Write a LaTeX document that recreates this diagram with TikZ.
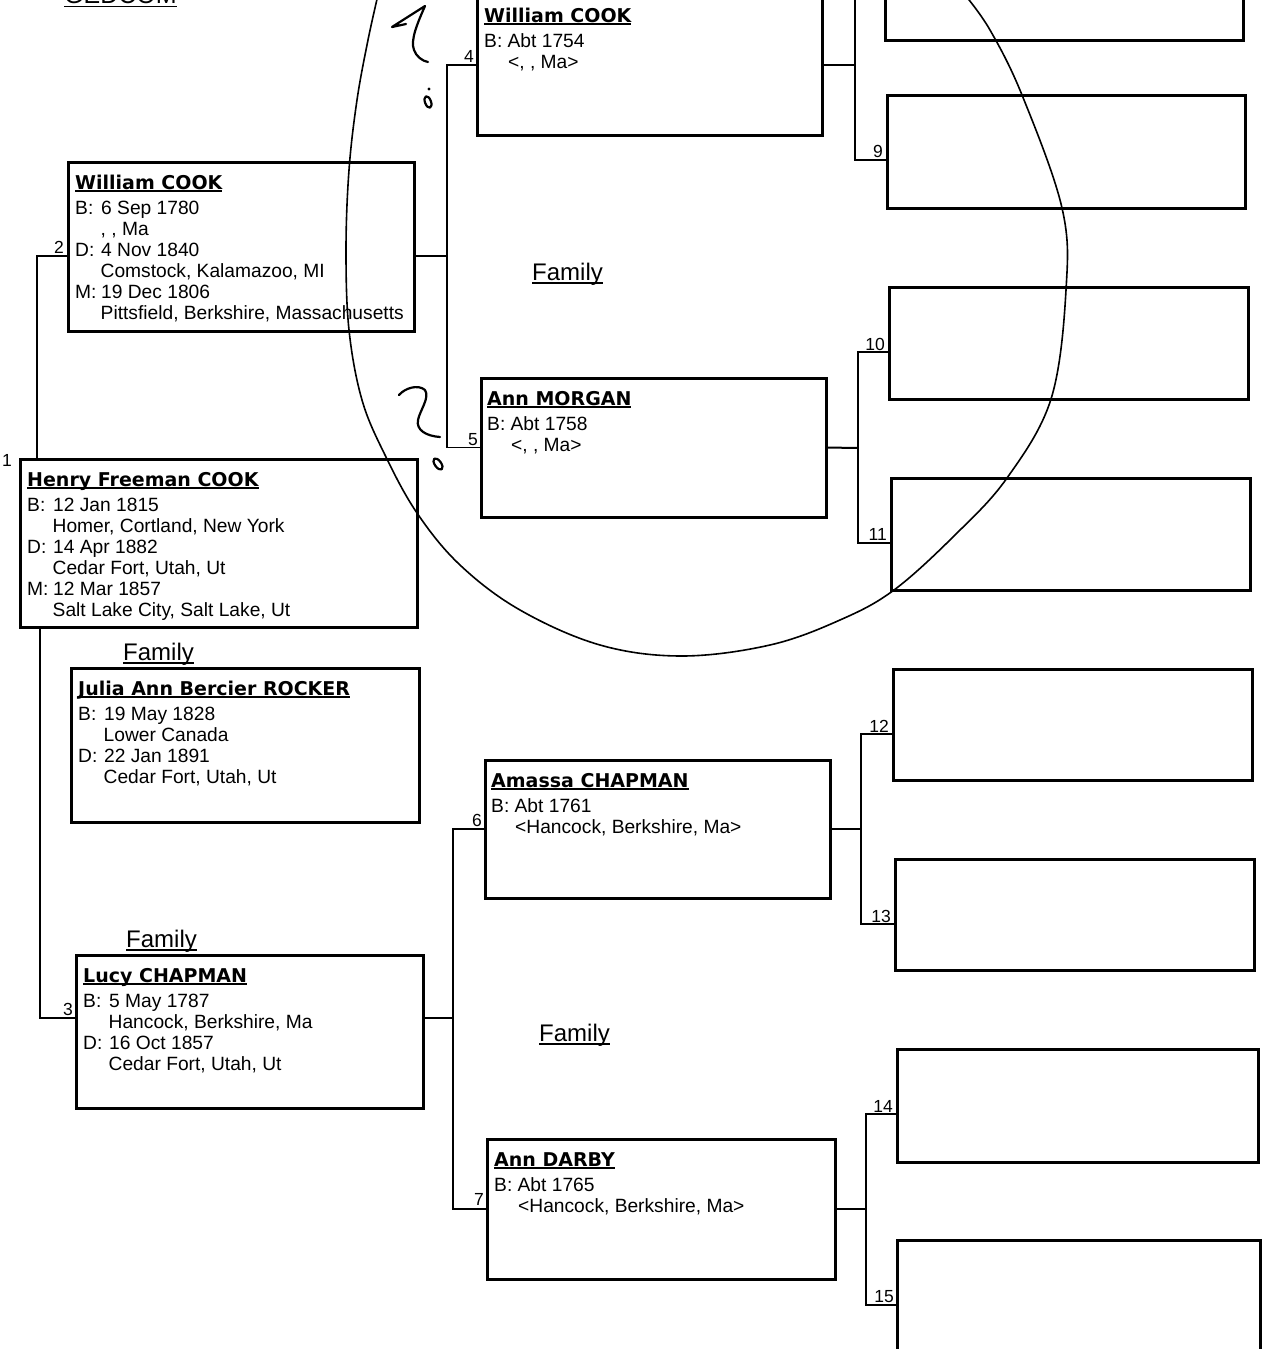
\documentclass[tikz,border=0pt]{standalone}
\usepackage{fontspec}
\setmainfont{Liberation Sans}
\newfontfamily\dejavu{DejaVu Sans}
\usetikzlibrary{calc}
\newcommand\ulx[2][2.5pt]{\setbox0=\hbox{#2}\rlap{\rule[-#1]{\wd0}{1.1pt}}\box0}
\newcommand\lab[1]{\makebox[26pt][l]{#1}}
\newcommand\ind{\hspace*{25.5pt}}
\newcommand\indb{\hspace*{24pt}}
\tikzset{
 pbox/.style={draw, line width=3pt, inner sep=0pt, outer sep=0pt, anchor=north west},
 conn/.style={line width=1.6pt},
 connb/.style={line width=2pt},
 namet/.style={inner sep=0pt, font=\dejavu\bfseries\fontsize{19}{21}\selectfont},
 bodyt/.style={inner sep=0pt, font=\fontsize{19.2}{21}\selectfont},
 numt/.style={inner sep=0pt, font=\fontsize{17.5}{19}\selectfont, anchor=base east},
 famt/.style={inner sep=0pt, font=\fontsize{24}{26}\selectfont, anchor=base west},
 hand/.style={line width=2.2pt, line cap=round, line join=round},
}
\newcommand\pbx[5]{\node[pbox, minimum width={(#4)-(#2)}, minimum height={(#5)-(#3)}] (#1) at (#2,#3) {};}
\newcommand\person[5]{%
  \node[namet, anchor=base west] (#1n) at (#2,{#3+27}) {\ulx{#4}};
  \foreach \lx [count=\i] in {#5} {\node[bodyt, anchor=base west] (#1l\i) at (#2,{#3+31+21*\i}) {\lx};}
}
\begin{document}
\begin{tikzpicture}[x=1pt,y=-1pt]
\useasboundingbox (0,0) rectangle (1266,1349);
\fill[white] (0,0) rectangle (1266,1349);

% boxes
\pbx{b8}{885}{-73}{1243}{40}
\pbx{b9}{887}{95}{1245}{208}
\pbx{b4}{477}{-5}{822}{135}
\pbx{b2}{68}{162}{414}{331}
\pbx{b10}{889}{287}{1248}{399}
\pbx{b5}{481}{378}{826}{517}
\pbx{b11}{891}{478}{1250}{590}
\pbx{b1}{20}{459}{417}{627}
\pbx{bj}{71}{668}{419}{822}
\pbx{b12}{893}{669}{1252}{780}
\pbx{b6}{485}{760}{830}{898}
\pbx{b13}{895}{859}{1254}{970}
\pbx{b3}{76}{955}{423}{1108}
\pbx{b14}{897}{1049}{1258}{1162}
\pbx{b7}{487}{1139}{835}{1279}
\pbx{b15}{897}{1240}{1260}{1353}

% texts
\person{b4}{484}{-5}{William COOK}{{B: Abt 1754},{\indb<, , Ma>}}
\person{b2}{75}{162}{William COOK}{{\lab{B:}6 Sep 1780},{\ind, , Ma},{\lab{D:}4 Nov 1840},{\ind Comstock, Kalamazoo, MI},{\lab{M:}19 Dec 1806},{\ind Pittsfield, Berkshire, Massachusetts}}
\person{b5}{487}{378}{Ann MORGAN}{{B: Abt 1758},{\indb<, , Ma>}}
\person{b1}{27}{459}{Henry Freeman COOK}{{\lab{B:}12 Jan 1815},{\ind Homer, Cortland, New York},{\lab{D:}14 Apr 1882},{\ind Cedar Fort, Utah, Ut},{\lab{M:}12 Mar 1857},{\ind Salt Lake City, Salt Lake, Ut}}
\person{bj}{78}{668}{Julia Ann Bercier ROCKER}{{\lab{B:}19 May 1828},{\ind Lower Canada},{\lab{D:}22 Jan 1891},{\ind Cedar Fort, Utah, Ut}}
\person{b6}{491}{760}{Amassa CHAPMAN}{{B: Abt 1761},{\indb<Hancock, Berkshire, Ma>}}
\person{b3}{83}{955}{Lucy CHAPMAN}{{\lab{B:}5 May 1787},{\ind Hancock, Berkshire, Ma},{\lab{D:}16 Oct 1857},{\ind Cedar Fort, Utah, Ut}}
\person{b7}{494}{1139}{Ann DARBY}{{B: Abt 1765},{\indb<Hancock, Berkshire, Ma>}}

% Family labels
\node[famt] (f1) at (123,660) {\ulx[3.5pt]{Family}};
\node[famt] (f2) at (126,947) {\ulx[3.5pt]{Family}};
\node[famt] (f3) at (532,280) {\ulx[3.5pt]{Family}};
\node[famt] (f4) at (539,1041) {\ulx[3.5pt]{Family}};
\node[inner sep=0pt, anchor=base west, font=\fontsize{25}{27}\selectfont] (ged) at (64,4) {\ulx[3pt]{GEDCOM}};

% junctions
\coordinate (jL) at (37,256);
\coordinate (jL2) at (40,1018);
\coordinate (j2) at (447,256);
\coordinate (j3) at (453,1018);
\coordinate (j4) at (855,65);
\coordinate (j5) at (858,448);
\coordinate (j6) at (861,829);
\coordinate (j7) at (866,1209);

% connectors
\draw[conn] (b2.west |- jL) -- (jL) -- (jL |- b1.north);
\draw[conn] (b1.south -| jL2) -- (jL2) -- (b3.west |- jL2);
\draw[connb] (b2.east |- j2) -- (j2);
\draw[conn] (b4.west) -| (j2) |- (b5.west);
\draw[connb] (b3.east |- j3) -- (j3);
\draw[conn] (b6.west) -| (j3) |- (b7.west);
\draw[connb] (b4.east) -- (j4);
\draw[connb] (b5.east) -- (j5);
\draw[connb] (b6.east) -- (j6);
\draw[connb] (b7.east) -- (j7);
\draw[conn] ($(b8.north west)+(0,65)$) -| (j4) |- ($(b9.north west)+(0,65)$);
\draw[conn] ($(b10.north west)+(0,65)$) -| (j5) |- ($(b11.north west)+(0,65)$);
\draw[conn] ($(b12.north west)+(0,65)$) -| (j6) |- ($(b13.north west)+(0,65)$);
\draw[conn] ($(b14.north west)+(0,65)$) -| (j7) |- ($(b15.north west)+(0,65)$);

% numbers
\node[numt, anchor=base west] (n1) at (2,466) {1};
\node[numt] (n2) at (64,253) {2};
\node[numt] (n3) at (73,1015) {3};
\node[numt] (n4) at (474,62) {4};
\node[numt] (n5) at (478,445) {5};
\node[numt] (n6) at (482,826) {6};
\node[numt] (n7) at (484,1205) {7};
\node[numt] (n9) at (883,157) {9};
\node[numt] (n10) at (885,350) {10};
\node[numt] (n11) at (887,540) {11};
\node[numt] (n12) at (889,732) {12};
\node[numt] (n13) at (891,922) {13};
\node[numt] (n14) at (893,1112) {14};
\node[numt] (n15) at (894,1302) {15};

% hand-drawn loop
\draw[line width=1.6pt] plot[smooth, tension=0.6] coordinates {
 (378,-5) (368,40) (357,100) (349,170) (346,250) (349,330) (362,400) (385,455)
 (417,513) (460,565) (520,610) (600,645) (682,656) (770,645) (840,620) (894,590)
 (955,535) (1007,478) (1051,399) (1066,290) (1062,208) (1022,95) (990,30) (965,-5)};

% hand annotations
\draw[hand] (406,24) -- (392,27) -- (425,6) .. controls (418,22) and (410,40) .. (414,50) .. controls (416,56) and (422,61) .. (428,62);
\draw[hand, rotate around={20:(428,102)}] (428,102) ellipse [x radius=3, y radius=6];
\fill (429,89) circle [radius=1.6];
\draw[hand] (399,395) .. controls (405,388) and (418,384) .. (425,390) .. controls (430,398) and (420,410) .. (418,420) .. controls (416,430) and (426,436) .. (440,437);
\draw[hand, rotate around={35:(438,464)}] (438,464) ellipse [x radius=3.2, y radius=6.5];
\end{tikzpicture}
\end{document}
